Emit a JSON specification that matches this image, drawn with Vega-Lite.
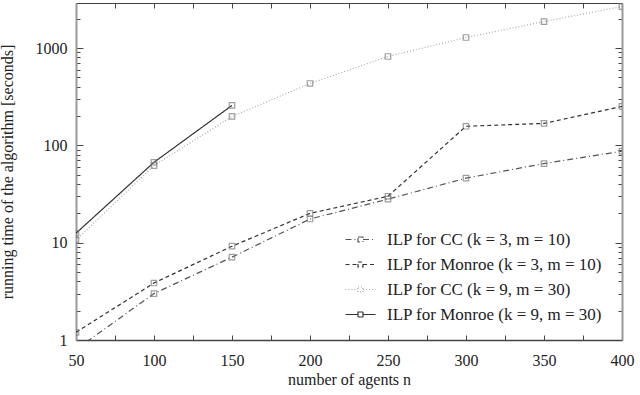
{
  "$schema": "https://vega.github.io/schema/vega-lite/v6.json",
  "autosize": "none",
  "width": 546,
  "height": 337,
  "padding": {"left": 76, "top": 3, "right": 18, "bottom": 55},
  "background": "white",
  "config": {
    "view": {"stroke": null},
    "font": "Liberation Serif",
    "axis": {"labelFont": "Liberation Serif", "titleFont": "Liberation Serif", "labelFontSize": 16, "titleFontSize": 16, "titleFontWeight": "normal", "labelColor": "#222", "titleColor": "#222", "grid": false, "labelFlush": false}
  },
  "data": {
    "values": [
      {"s": "ILP for CC (k = 3, m = 10)", "o": 1, "n": 50, "t": 0.8},
      {"s": "ILP for CC (k = 3, m = 10)", "o": 1, "n": 100, "t": 3.0},
      {"s": "ILP for CC (k = 3, m = 10)", "o": 1, "n": 150, "t": 7.1},
      {"s": "ILP for CC (k = 3, m = 10)", "o": 1, "n": 200, "t": 17.5},
      {"s": "ILP for CC (k = 3, m = 10)", "o": 1, "n": 250, "t": 28},
      {"s": "ILP for CC (k = 3, m = 10)", "o": 1, "n": 300, "t": 46},
      {"s": "ILP for CC (k = 3, m = 10)", "o": 1, "n": 350, "t": 65},
      {"s": "ILP for CC (k = 3, m = 10)", "o": 1, "n": 400, "t": 87},
      {"s": "ILP for Monroe (k = 3, m = 10)", "o": 2, "n": 50, "t": 1.2},
      {"s": "ILP for Monroe (k = 3, m = 10)", "o": 2, "n": 100, "t": 3.85},
      {"s": "ILP for Monroe (k = 3, m = 10)", "o": 2, "n": 150, "t": 9.2},
      {"s": "ILP for Monroe (k = 3, m = 10)", "o": 2, "n": 200, "t": 20},
      {"s": "ILP for Monroe (k = 3, m = 10)", "o": 2, "n": 250, "t": 30},
      {"s": "ILP for Monroe (k = 3, m = 10)", "o": 2, "n": 300, "t": 157},
      {"s": "ILP for Monroe (k = 3, m = 10)", "o": 2, "n": 350, "t": 168},
      {"s": "ILP for Monroe (k = 3, m = 10)", "o": 2, "n": 400, "t": 251},
      {"s": "ILP for CC (k = 9, m = 30)", "o": 3, "n": 50, "t": 10.6},
      {"s": "ILP for CC (k = 9, m = 30)", "o": 3, "n": 100, "t": 62},
      {"s": "ILP for CC (k = 9, m = 30)", "o": 3, "n": 150, "t": 198},
      {"s": "ILP for CC (k = 9, m = 30)", "o": 3, "n": 200, "t": 432},
      {"s": "ILP for CC (k = 9, m = 30)", "o": 3, "n": 250, "t": 818},
      {"s": "ILP for CC (k = 9, m = 30)", "o": 3, "n": 300, "t": 1282},
      {"s": "ILP for CC (k = 9, m = 30)", "o": 3, "n": 350, "t": 1870},
      {"s": "ILP for CC (k = 9, m = 30)", "o": 3, "n": 400, "t": 2666},
      {"s": "ILP for Monroe (k = 9, m = 30)", "o": 4, "n": 50, "t": 12.5},
      {"s": "ILP for Monroe (k = 9, m = 30)", "o": 4, "n": 100, "t": 67},
      {"s": "ILP for Monroe (k = 9, m = 30)", "o": 4, "n": 150, "t": 257}
    ]
  },
  "layer": [
    {
      "mark": {"type": "line", "clip": true, "strokeWidth": 1.2},
      "encoding": {
        "x": {"field": "n", "type": "quantitative", "scale": {"domain": [50, 400], "nice": false, "zero": false},
          "axis": {"orient": "bottom", "title": "number of agents n", "values": [50, 75, 100, 125, 150, 175, 200, 225, 250, 275, 300, 325, 350, 375, 400], "labelExpr": "datum.value % 50 == 0 ? datum.label : ''", "format": "d", "tickSize": -5, "tickColor": "#444", "labelPadding": 17, "labelFlush": false, "domainColor": "#444", "domainWidth": 1.5, "titlePadding": 3}},
        "y": {"field": "t", "type": "quantitative", "scale": {"type": "log", "domain": [1, 2900], "nice": false},
          "axis": {"orient": "left", "title": "running time of the algorithm [seconds]", "values": [1,2,3,4,5,6,7,8,9,10,20,30,40,50,60,70,80,90,100,200,300,400,500,600,700,800,900,1000,2000], "format": "d", "labelExpr": "indexof(['1','10','100','1000'], datum.label) >= 0 ? datum.label : ''", "tickSize": {"condition": {"test": "indexof([1,10,100,1000], datum.value) >= 0", "value": -7}, "value": -4}, "tickColor": "#444", "labelPadding": 16, "labelFlush": false, "domainColor": "#999", "domainWidth": 2, "titlePadding": 20}},
        "color": {"field": "s", "type": "nominal", "sort": {"field": "o"},
          "scale": {"range": ["#555555", "#333333", "#aaaaaa", "#333333"]},
          "legend": {"title": null, "orient": "none", "legendX": 276, "legendY": 228, "symbolType": "M-3,0H-0.5M0.5,0H3M-0.5,-0.5H0.5V0.5H-0.5Z", "symbolSize": 100, "symbolStrokeWidth": 1.2, "labelFont": "Liberation Serif", "labelFontSize": 17, "labelColor": "#222", "rowPadding": 7, "labelLimit": 400, "padding": 0, "labelOffset": 18}},
        "strokeDash": {"field": "s", "type": "nominal", "sort": {"field": "o"},
          "scale": {"range": [[6, 3, 1, 3], [4, 3], [1, 2], [1, 0]]}}
      }
    },
    {
      "mark": {"type": "point", "shape": "square", "filled": false, "clip": true, "size": 30, "strokeWidth": 1.2, "color": "#777"},
      "encoding": {
        "x": {"field": "n", "type": "quantitative",
          "axis": {"orient": "top", "title": null, "labels": false, "values": [50, 75, 100, 125, 150, 175, 200, 225, 250, 275, 300, 325, 350, 375, 400], "tickSize": -5, "tickColor": "#444", "domainColor": "#444", "domainWidth": 1}},
        "y": {"field": "t", "type": "quantitative",
          "axis": {"orient": "right", "title": null, "labels": false, "values": [1,2,3,4,5,6,7,8,9,10,20,30,40,50,60,70,80,90,100,200,300,400,500,600,700,800,900,1000,2000], "tickSize": {"condition": {"test": "indexof([1,10,100,1000], datum.value) >= 0", "value": -7}, "value": -4}, "tickColor": "#444", "domainColor": "#999", "domainWidth": 2}}
      }
    }
  ]
}
